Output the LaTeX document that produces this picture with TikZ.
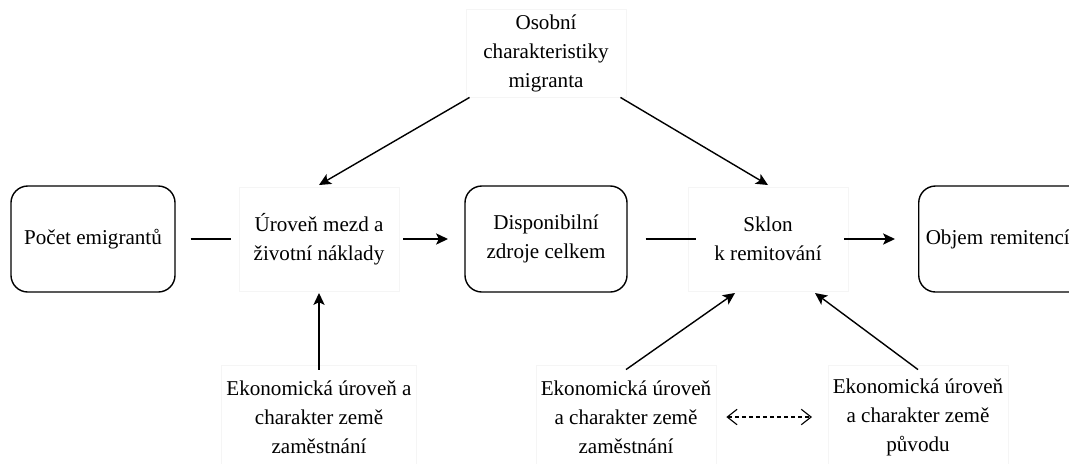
\documentclass[tikz,border=0pt]{standalone}
\usepackage{fontspec}
\setmainfont{Liberation Serif}
\usetikzlibrary{arrows.meta}
\begin{document}
\begin{tikzpicture}[x=0.025cm, y=-0.025cm,
		box/.style={draw, rounded corners=12pt, line width=1pt, minimum width=4.1cm, minimum height=2.65cm, align=center, font=\fontsize{15}{20.6}\selectfont},
		txt/.style={draw=black!4, line width=0.6pt, minimum width=4cm, minimum height=2.6cm, align=center, font=\fontsize{15}{20.6}\selectfont},
		line/.style={line width=1pt},
		arr/.style={-{Stealth[length=8.5pt, width=8pt, inset=2pt]}, line width=1pt}]
		\useasboundingbox (0, 0) rectangle (1069, 463);
		\clip (0, 0) rectangle (1069, 463);
		\node[box] (pocet) at (93, 239) {Počet emigrantů};
		\node[txt] (uroven) at (319, 239) {Úroveň mezd a\\ životní náklady};
		\node[box, minimum width=4.05cm] (zdroje) at (546, 239) {Disponibilní\\ zdroje celkem};
		\node[txt] (sklon) at (768, 239) {Sklon\\ k remitování};
		\node[box, anchor=west, text width=5.5cm, align=left, inner xsep=5pt] (objem) at (918, 239) {Objem remitencí};
		\node[txt, minimum height=2.2cm] (osobni) at (546, 53) {Osobní\\ charakteristiky\\ migranta};
		\node[txt, minimum height=2.6cm] (ekzam) at (319, 417) {Ekonomická úroveň a\\ charakter země\\ zaměstnání};
		\node[txt, minimum height=2.6cm] (ekzam2) at (626, 417) {Ekonomická úroveň\\ a charakter země\\ zaměstnání};
		\node[txt, minimum height=2.6cm] (ekpuv) at (918, 417) {Ekonomická úroveň\\ a charakter země\\ původu};
		\draw[line] (pocet.east) ++(15, 0) -- ++(40, 0);
		\draw[arr] (uroven.east) ++(4, 0) -- (448, 239);
		\draw[line] (zdroje.east) ++(18, 0) -- ++(50, 0);
		\draw[arr] (sklon.east) ++(-4, 0) -- (895, 239);
		\draw[arr] (osobni.south west) ++(4, 0) -- (319, 185);
		\draw[arr] (osobni.south east) ++(-6, 0) -- (768, 185);
		\draw[arr] (ekzam.north) ++(0, 5) -- (319, 293);
		\draw[arr] (ekzam2.north) ++(0, 5) -- (735, 293);
		\draw[arr] (ekpuv.north) ++(0, 5) -- (815, 293);
		\draw[densely dashed, {Straight Barb[length=7pt, width=11pt]}-{Straight Barb[length=7pt, width=11pt]}, line width=0.8pt] (ekzam2.east) ++(10, 0) -- (812, 417);
	\end{tikzpicture}
\end{document}
